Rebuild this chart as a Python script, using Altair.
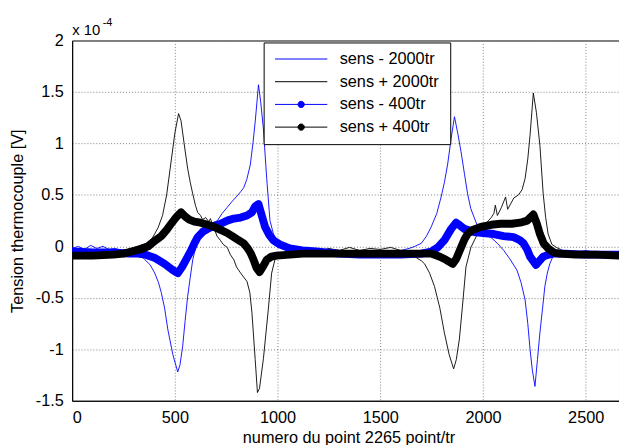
import altair as alt
import pandas as pd

# ---------------- data (y in units of 1e-4 V) ----------------
series_names = ["sens - 2000tr", "sens + 2000tr", "sens - 400tr", "sens + 400tr"]
series_colors = ["#0000ff", "#000000", "#0000ff", "#000000"]

m2000_x = [0, 30, 60, 90, 120, 150, 180, 210, 240, 270, 300, 337, 354, 380, 402, 420, 434, 450, 466, 490,
           514, 525, 538, 550, 562, 575, 587, 600, 611, 635, 659, 683, 707, 730, 755, 780, 803, 820, 835, 850,
           867, 880, 891, 907, 918, 931, 947, 963, 980, 995, 1030, 1059, 1100, 1150, 1200, 1250, 1300, 1350,
           1400, 1450, 1500, 1550, 1600, 1640, 1668, 1700, 1725, 1748, 1775, 1796, 1812, 1828, 1845, 1861,
           1877, 1893, 1910, 1925, 1940, 1957, 1973, 1989, 2013, 2037, 2070, 2101, 2130, 2165, 2185, 2205,
           2218, 2229, 2240, 2253, 2265, 2277, 2290, 2301, 2313, 2325, 2340, 2357, 2400, 2450, 2500, 2550,
           2600, 2662]
m2000_y = [-0.02, 0.0, -0.03, 0.01, -0.02, 0.0, -0.03, -0.02, -0.04, -0.05, -0.06, -0.09, -0.13, -0.18, -0.26,
           -0.35, -0.45, -0.6, -0.81, -1.05, -1.22, -1.15, -0.97, -0.72, -0.49, -0.3, -0.13, -0.02, 0.06, 0.14,
           0.19, 0.22, 0.25, 0.32, 0.38, 0.44, 0.49, 0.53, 0.57, 0.65, 0.79, 1.0, 1.21, 1.57, 1.4, 1.14, 0.66,
           0.25, 0.12, 0.06, 0.01, -0.01, -0.03, -0.02, -0.04, -0.03, -0.05, -0.04, -0.05, -0.04, -0.05, -0.04,
           -0.04, -0.02, 0.0, 0.03, 0.1, 0.19, 0.32, 0.48, 0.62, 0.8, 1.05, 1.26, 1.1, 0.92, 0.7, 0.51, 0.37,
           0.28, 0.2, 0.15, 0.11, 0.09, 0.03, -0.04, -0.12, -0.23, -0.35, -0.52, -0.75, -1.0, -1.2, -1.36, -1.1,
           -0.84, -0.6, -0.39, -0.26, -0.17, -0.1, -0.07, -0.05, -0.06, -0.04, -0.06, -0.05, -0.06]

p2000_x = [0, 30, 60, 90, 120, 150, 180, 210, 240, 270, 300, 330, 360, 390, 418, 440, 460, 480, 500, 518,
           530, 545, 562, 575, 587, 600, 611, 625, 635, 650, 665, 673, 690, 705, 721, 735, 755, 770, 787, 800,
           817, 835, 851, 865, 875, 891, 902, 912, 931, 955, 971, 987, 1010, 1050, 1100, 1150, 1200, 1250,
           1300, 1350, 1400, 1450, 1500, 1550, 1600, 1640, 1668, 1700, 1716, 1740, 1764, 1790, 1812, 1835,
           1857, 1870, 1885, 1900, 1917, 1941, 1973, 2013, 2040, 2053, 2060, 2070, 2090, 2110, 2120, 2150,
           2173, 2190, 2205, 2218, 2229, 2245, 2260, 2277, 2293, 2305, 2317, 2335, 2357, 2400, 2450, 2500,
           2550, 2600, 2662]
p2000_y = [-0.05, -0.04, -0.06, -0.05, -0.06, -0.05, -0.06, -0.05, -0.04, -0.03, -0.01, 0.01, 0.03, 0.08,
           0.18, 0.3, 0.5, 0.8, 1.1, 1.29, 1.22, 1.0, 0.76, 0.62, 0.51, 0.4, 0.33, 0.3, 0.26, 0.28, 0.24, 0.27,
           0.18, 0.1, 0.06, 0.02, -0.01, -0.08, -0.13, -0.2, -0.25, -0.3, -0.34, -0.45, -0.64, -1.1, -1.42,
           -1.38, -1.09, -0.61, -0.26, -0.13, -0.08, -0.06, -0.05, -0.03, -0.05, -0.02, -0.04, -0.01, -0.04,
           -0.02, -0.03, -0.01, -0.04, -0.06, -0.1, -0.14, -0.17, -0.26, -0.39, -0.6, -0.84, -1.05, -1.19,
           -1.1, -0.9, -0.58, -0.2, -0.01, 0.12, 0.22, 0.28, 0.32, 0.4, 0.3, 0.38, 0.48, 0.36, 0.47, 0.5, 0.55,
           0.66, 0.85, 1.08, 1.49, 1.3, 0.98, 0.51, 0.28, 0.12, 0.02, -0.01, -0.05, -0.06, -0.07, -0.06, -0.07,
           -0.06]

m400_x = [0, 100, 200, 280, 320, 354, 400, 450, 490, 514, 535, 560, 579, 595, 611, 635, 659, 690, 723, 755,
          787, 820, 851, 875, 891, 907, 920, 939, 960, 979, 1010, 1059, 1120, 1187, 1300, 1400, 1500, 1600,
          1700, 1748, 1780, 1812, 1845, 1869, 1890, 1909, 1957, 2000, 2053, 2100, 2149, 2180, 2197, 2215,
          2229, 2258, 2275, 2293, 2320, 2341, 2400, 2500, 2600, 2662]
m400_y = [-0.05, -0.06, -0.06, -0.07, -0.07, -0.08, -0.11, -0.17, -0.23, -0.26, -0.2, -0.11, -0.04, 0.03,
          0.09, 0.14, 0.17, 0.2, 0.22, 0.25, 0.27, 0.28, 0.3, 0.33, 0.39, 0.41, 0.32, 0.19, 0.11, 0.06, 0.02,
          -0.02, -0.04, -0.05, -0.07, -0.08, -0.08, -0.08, -0.07, -0.05, -0.01, 0.06, 0.17, 0.23, 0.2, 0.17,
          0.14, 0.13, 0.12, 0.1, 0.09, 0.06, 0.03, -0.03, -0.1, -0.18, -0.14, -0.1, -0.08, -0.07, -0.07,
          -0.08, -0.08, -0.08]

p400_x = [0, 100, 200, 250, 290, 330, 370, 400, 434, 460, 482, 505, 530, 550, 570, 595, 625, 659, 690, 723,
          755, 787, 810, 835, 855, 870, 883, 898, 912, 928, 947, 970, 995, 1060, 1123, 1200, 1300, 1400, 1500,
          1600, 1700, 1748, 1790, 1820, 1853, 1870, 1893, 1910, 1925, 1950, 1989, 2040, 2085, 2140, 2181,
          2215, 2245, 2262, 2277, 2295, 2317, 2345, 2373, 2450, 2550, 2662]
p400_y = [-0.09, -0.09, -0.08, -0.07, -0.05, -0.03, 0.0, 0.05, 0.1, 0.16, 0.22, 0.28, 0.33, 0.29, 0.26,
          0.24, 0.23, 0.21, 0.19, 0.16, 0.13, 0.09, 0.06, 0.03, -0.02, -0.07, -0.13, -0.21, -0.25, -0.2,
          -0.13, -0.1, -0.09, -0.08, -0.07, -0.07, -0.07, -0.07, -0.07, -0.07, -0.07, -0.07, -0.1, -0.13,
          -0.17, -0.12, -0.01, 0.07, 0.12, 0.16, 0.19, 0.21, 0.22, 0.22, 0.23, 0.25, 0.31, 0.22, 0.12, 0.03,
          -0.02, -0.06, -0.07, -0.08, -0.08, -0.09]

x_ticks = [0, 500, 1000, 1500, 2000, 2500]
y_ticks = [-1.5, -1, -0.5, 0, 0.5, 1, 1.5, 2]
exp_label = ["x 10"]
exp_power = ["-4"]

rows = []
for name, xs, ys in zip(series_names, [m2000_x, p2000_x, m400_x, p400_x],
                        [m2000_y, p2000_y, m400_y, p400_y]):
    for i, (xv, yv) in enumerate(zip(xs, ys)):
        rows.append({"series": name, "x": xv, "y": yv, "i": i})
df = pd.DataFrame(rows)

FONT = "Liberation Sans"
FS = 16.5

line_path = "M-1,0H1"
dot_path = "M-1,0H1M-0.12,0A0.12,0.12,0,1,1,0.12,0A0.12,0.12,0,1,1,-0.12,0Z"

color = alt.Color(
    "series:N",
    scale=alt.Scale(domain=series_names, range=series_colors),
    legend=alt.Legend(
        title="\u00a0", titleOrient="right", titleOpacity=0, titleFontSize=FS, titlePadding=6,
        orient="none", legendX=194, legendY=2,
        fillColor="white", strokeColor="black", padding=5.5, cornerRadius=0,
        symbolSize=2809, clipHeight=22.5, rowPadding=0, symbolOffset=5.5, labelOffset=12,
        labelFont=FONT, labelFontSize=FS, labelColor="black", symbolStrokeWidth=1,
        symbolType=alt.ExprRef(expr=f"indexof(datum.value, '400') >= 0 ? '{dot_path}' : '{line_path}'"),
        symbolFillColor=alt.ExprRef(expr="indexof(datum.value, '-') >= 0 ? '#0000ff' : '#000000'"),
        symbolOpacity=1,
    ),
)

x_enc = alt.X("x:Q", scale=alt.Scale(domain=[0, 2662], nice=False, zero=False),
              axis=alt.Axis(values=x_ticks, format="d", title="numero du point 2265 point/tr",
                            titleX=280, titleY=42, titleBaseline="alphabetic"))
y_enc = alt.Y("y:Q", scale=alt.Scale(domain=[-1.5, 2], nice=False, zero=False),
              axis=alt.Axis(values=y_ticks, labelExpr="toString(datum.value)",
                            title="Tension thermocouple [V]", titleAngle=270, titleX=-55,
                            titleY=182.5, titleBaseline="middle", titleAlign="center"))

base = alt.Chart(df)

def layer(name, width):
    return base.transform_filter(alt.datum.series == name).mark_line(
        strokeWidth=width, strokeCap="round", strokeJoin="round", clip=True
    ).encode(x=x_enc, y=y_enc, color=color, order="i:Q")

thin_blue = layer(series_names[0], 0.9)
thin_black = layer(series_names[1], 0.9)
thick_blue = layer(series_names[2], 8)
thick_black = layer(series_names[3], 8)

exp_base = alt.Chart(pd.DataFrame({"t": exp_label})).mark_text(
    align="left", baseline="alphabetic", font=FONT, fontSize=15, color="black"
).encode(x=alt.value(0), y=alt.value(-5.5), text="t:N")
exp_sup = alt.Chart(pd.DataFrame({"t": exp_power})).mark_text(
    align="left", baseline="alphabetic", font=FONT, fontSize=11, color="black"
).encode(x=alt.value(31), y=alt.value(-14.5), text="t:N")

chart = alt.layer(thin_blue, thin_black, thick_blue, thick_black, exp_base, exp_sup).properties(
    width=554, height=365,
    autosize=alt.AutoSizeParams(type="none"),
    padding={"left": 65, "top": 30, "right": 0, "bottom": 52},
    background="white",
).configure_view(stroke="black", strokeWidth=1).configure_axis(
    labelFont=FONT, labelFontSize=FS, labelColor="black", titleFont=FONT, titleFontSize=FS,
    titleFontWeight="normal", titleColor="black", domainColor="black", domainWidth=1,
    tickSize=0, labelPadding=9, gridColor="#808080", gridDash=[1, 2], gridWidth=1, gridOpacity=1,
).configure_legend(strokeWidth=1)

chart.save("out.html", embed_options={"renderer": "svg", "actions": False})
